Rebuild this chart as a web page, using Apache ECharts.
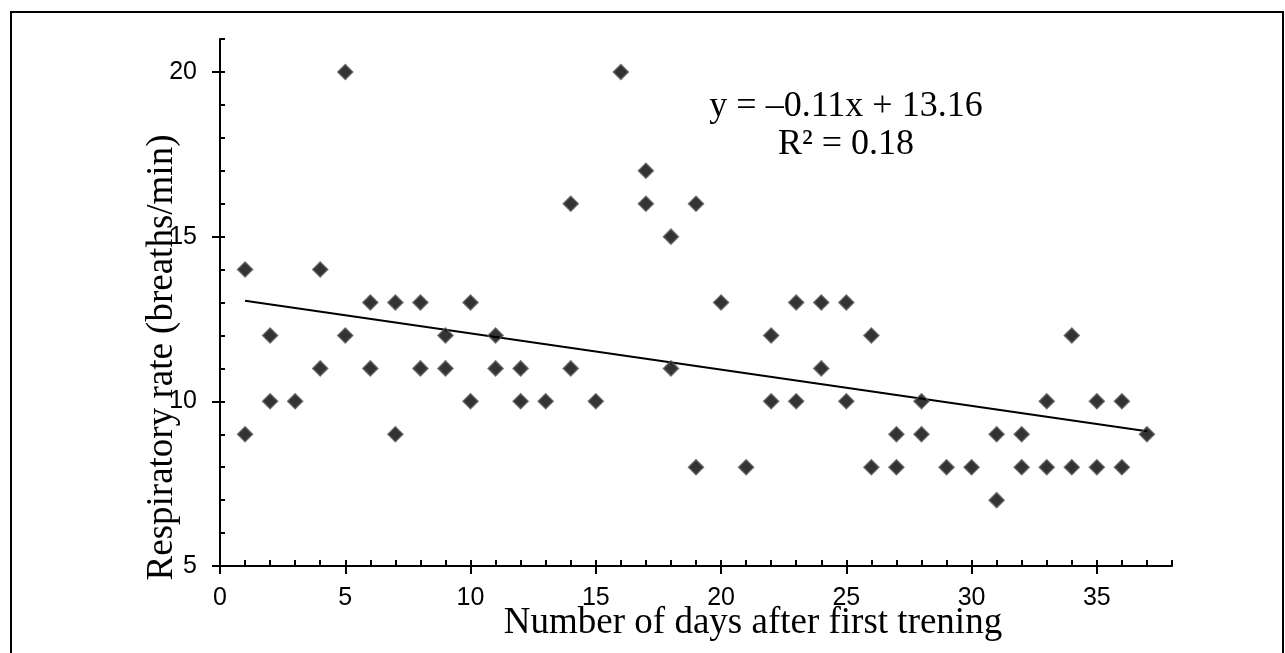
<!DOCTYPE html>
<html>
<head>
<meta charset="utf-8">
<script src="https://cdn.jsdelivr.net/npm/echarts@6/dist/echarts.min.js"></script>
<style>
	html, body { margin: 0; padding: 0; background: #fff; }
	#chart { width: 1285px; height: 653px; }
</style>
</head>
<body>
<div id="chart"></div>
<script>
// days after first training, and respiratory rate measured on that day
var days = [1, 1, 2, 2, 3, 4, 4, 5, 5, 6, 6, 7, 7, 8, 8, 9, 9, 10, 10,
	11, 11, 12, 12, 13, 14, 14, 15, 16, 17, 17, 18, 18, 19, 19, 20, 21,
	22, 22, 23, 23, 24, 24, 25, 25, 26, 26, 27, 27, 28, 28, 29, 30,
	31, 31, 32, 32, 33, 33, 34, 34, 35, 35, 36, 36, 37];
var rates = [14, 9, 12, 10, 10, 14, 11, 20, 12, 13, 11, 13, 9, 13, 11, 12, 11, 13, 10,
	12, 11, 11, 10, 10, 16, 11, 10, 20, 17, 16, 15, 11, 16, 8, 13, 8,
	12, 10, 13, 10, 13, 11, 13, 10, 12, 8, 9, 8, 10, 9, 8, 8,
	9, 7, 9, 8, 10, 8, 12, 8, 10, 8, 10, 8, 9];

// linear trend shown on the chart
var trendSlope = -0.11;
var trendIntercept = 13.16;
var trendText = ['y = \u20130.11x + 13.16', 'R\u00b2 = 0.18'];

var xMin = 0, xMax = 38;
var yMin = 5, yMax = 21;
var xMajor = [0, 5, 10, 15, 20, 25, 30, 35];
var yMajor = [5, 10, 15, 20];

var points = [];
for (var i = 0; i < days.length; i++) {
	points.push([days[i], rates[i]]);
}
var firstDay = Math.min.apply(null, days);
var lastDay = Math.max.apply(null, days);
var trendLine = [
	[firstDay, trendSlope * firstDay + trendIntercept],
	[lastDay, trendSlope * lastDay + trendIntercept]
];

var serif = '"Liberation Serif", "Times New Roman", serif';
var sans = '"Liberation Sans", Arial, sans-serif';

var chart = echarts.init(document.getElementById('chart'), null, { renderer: 'canvas' });

var option = {
	backgroundColor: '#fff',
	animation: false,
	grid: { left: 220, right: 113, top: 39, bottom: 87 },
	xAxis: [ {
		type: 'value',
		min: xMin,
		max: xMax,
		interval: 1,
		name: 'Number of days after first trening',
		nameLocation: 'middle',
		nameGap: 39,
		nameMoveOverlap: false,
		nameTextStyle: {
			fontFamily: serif,
			fontSize: 37,
			color: '#000',
			padding: [0, 0, 0, 114]
		},
		axisLine: { lineStyle: { color: '#000', width: 2 } },
		axisTick: { inside: true, length: 6, lineStyle: { color: '#000', width: 2 } },
		axisLabel: {
			fontFamily: sans,
			fontSize: 25,
			color: '#000',
			margin: 20,
			formatter: function (v) { return v % 5 === 0 ? String(v) : ''; }
		},
		splitLine: { show: false }
	}, {
		type: 'value',
		position: 'bottom',
		min: xMin,
		max: xMax,
		interval: 5,
		axisLine: { show: false },
		axisTick: { length: 8, customValues: xMajor, lineStyle: { color: '#000', width: 2 } },
		axisLabel: { show: false },
		splitLine: { show: false }
	} ],
	yAxis: [ {
		type: 'value',
		min: yMin,
		max: yMax,
		interval: 1,
		name: 'Respiratory rate (breaths/min)',
		nameLocation: 'middle',
		nameGap: 39,
		nameMoveOverlap: false,
		nameTextStyle: {
			fontFamily: serif,
			fontSize: 37,
			color: '#000',
			padding: [0, 110, 0, 0]
		},
		axisLine: { show: true, lineStyle: { color: '#000', width: 2 } },
		axisTick: { show: true, inside: true, length: 5, lineStyle: { color: '#000', width: 2 } },
		axisLabel: {
			fontFamily: sans,
			fontSize: 25,
			color: '#000',
			margin: 23,
			formatter: function (v) { return v % 5 === 0 ? String(v) : ''; }
		},
		splitLine: { show: false }
	}, {
		type: 'value',
		position: 'left',
		min: yMin,
		max: yMax,
		interval: 5,
		axisLine: { show: false },
		axisTick: { show: true, length: 8, customValues: yMajor, lineStyle: { color: '#000', width: 2 } },
		axisLabel: { show: false },
		splitLine: { show: false }
	} ],
	series: [ {
		name: 'trend',
		type: 'line',
		data: trendLine,
		symbol: 'none',
		lineStyle: { color: '#000', width: 2 },
		z: 2
	}, {
		name: 'rate',
		type: 'scatter',
		data: points,
		symbol: 'diamond',
		symbolSize: 15,
		itemStyle: { color: '#000', borderColor: '#5a5a5a', borderWidth: 1.5 },
		z: 3
	} ],
	graphic: [ {
		type: 'rect',
		shape: { x: 11, y: 12, width: 1272, height: 660 },
		style: { fill: null, stroke: '#000', lineWidth: 2 },
		silent: true
	}, {
		type: 'text',
		x: 846,
		y: 107,
		style: {
			text: trendText[0],
			align: 'center',
			verticalAlign: 'middle',
			font: '36px ' + serif,
			fill: '#000'
		}
	}, {
		type: 'text',
		x: 846,
		y: 145,
		style: {
			text: trendText[1],
			align: 'center',
			verticalAlign: 'middle',
			font: '36px ' + serif,
			fill: '#000'
		}
	} ]
};

chart.setOption(option, true);
</script>
</body>
</html>
